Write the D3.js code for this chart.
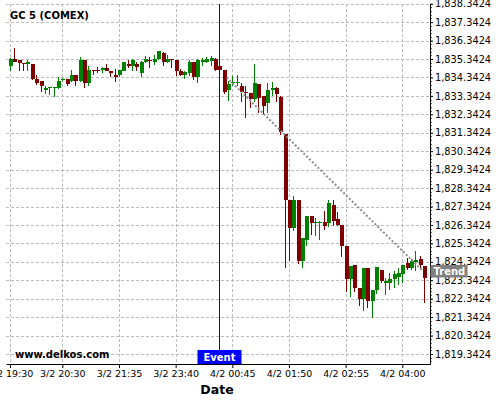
<!DOCTYPE html>
<html>
<head>
<meta charset="utf-8">
<script src="https://cdn.jsdelivr.net/npm/d3@7"></script>
<style>
html,body{margin:0;padding:0;background:#fff;}
svg{display:block;font-family:"DejaVu Sans",sans-serif;}
</style>
</head>
<body>
<svg id="chart" width="500" height="400"></svg>
<script>
const title = "GC 5 (COMEX)";
const watermark = "www.delkos.com";
const xTitle = "Date";

const openP = [
1834.98,1835.35,1835.28,1835.14,1835.07,1835.07,1834.26,1834.15,1833.67,1833.78,
1833.77,1833.77,1834.19,1834.26,1834.16,1834.47,1834.16,1835.29,1834.02,1834.75,
1834.75,1834.75,1834.84,1834.69,1834.49,1834.47,1834.71,1835.07,1834.98,1835.07,
1834.58,1835.20,1835.29,1835.20,1835.35,1835.67,1835.20,1835.35,1835.29,1834.71,
1834.49,1834.58,1835.20,1834.38,1835.20,1835.20,1835.25,1835.35,1834.95,1834.76,
1833.67,1834.04,1834.06,1833.86,1833.57,1833.48,1833.17,1833.99,1833.32,1832.95,
1833.67,1833.75,1833.29,1831.26,1827.67,1826.15,1827.72,1824.37,1825.55,1826.85,
1826.43,1826.43,1826.51,1826.46,1827.45,1826.64,1826.36,1825.18,1823.42,1824.15,
1822.92,1822.32,1824.01,1822.24,1822.83,1823.91,1823.17,1823.17,1823.42,1823.52,
1823.68,1824.28,1824.01,1824.39,1824.51,1824.13];
const closeP = [
1835.35,1835.20,1835.11,1835.09,1835.20,1834.26,1834.06,1833.89,1833.77,1833.82,
1833.82,1834.16,1834.26,1834.00,1834.47,1834.16,1835.29,1834.02,1834.75,1834.71,
1834.69,1834.84,1834.69,1834.60,1834.38,1834.75,1835.17,1834.98,1835.28,1834.89,
1835.20,1835.35,1835.22,1835.35,1835.77,1835.20,1835.35,1835.29,1834.71,1834.49,
1834.62,1835.20,1834.38,1835.29,1835.29,1835.35,1835.38,1834.76,1834.76,1833.57,
1833.99,1834.11,1834.08,1833.57,1833.48,1833.17,1834.04,1833.21,1832.80,1833.66,
1833.75,1833.44,1831.36,1827.72,1826.15,1827.67,1824.37,1825.64,1826.85,1826.46,
1826.51,1826.51,1826.27,1827.55,1826.54,1826.36,1825.18,1823.42,1824.13,1822.92,
1822.32,1824.01,1822.24,1822.83,1824.04,1823.28,1823.28,1823.42,1823.68,1823.73,
1824.15,1824.02,1824.39,1824.42,1824.15,1823.46];
const highP = [
1835.38,1835.93,1835.28,1835.14,1835.28,1835.07,1834.46,1834.15,1833.89,1833.82,
1833.82,1834.35,1834.31,1834.26,1834.73,1834.47,1835.44,1835.29,1834.95,1834.75,
1834.93,1834.89,1835.06,1834.69,1834.80,1834.75,1835.20,1835.31,1835.35,1835.20,
1835.25,1835.53,1835.44,1835.56,1835.77,1835.74,1835.56,1835.35,1835.29,1834.80,
1834.71,1835.29,1835.20,1835.35,1835.38,1835.44,1835.53,1835.40,1834.95,1834.76,
1834.16,1834.44,1834.47,1834.04,1833.86,1833.48,1835.07,1833.99,1833.32,1834.04,
1834.11,1833.81,1833.35,1831.30,1827.67,1827.90,1827.72,1825.64,1826.85,1826.85,
1826.73,1826.53,1827.09,1827.69,1827.72,1827.03,1826.36,1825.18,1824.13,1824.15,
1822.92,1824.01,1824.01,1822.83,1824.04,1823.91,1823.46,1823.73,1823.82,1824.01,
1824.15,1824.55,1824.50,1824.91,1824.68,1824.13];
const lowP = [
1834.68,1835.18,1834.68,1834.71,1834.71,1834.20,1833.95,1833.53,1833.44,1833.40,
1833.26,1833.71,1834.16,1833.89,1834.08,1833.89,1834.08,1833.75,1833.89,1834.47,
1834.58,1834.57,1834.69,1834.35,1834.11,1834.35,1834.68,1834.84,1834.71,1834.71,
1834.35,1835.13,1834.84,1835.02,1835.31,1834.95,1835.13,1834.84,1834.44,1834.40,
1834.26,1834.44,1834.22,1834.02,1834.98,1835.13,1834.98,1834.71,1834.75,1833.44,
1833.04,1833.89,1833.89,1833.02,1832.12,1832.66,1833.02,1832.44,1832.35,1832.44,
1833.35,1833.02,1831.21,1824.01,1824.40,1826.04,1824.22,1824.01,1825.18,1825.82,
1825.73,1825.55,1826.09,1826.24,1826.27,1826.27,1824.61,1822.73,1822.43,1822.73,
1821.92,1821.70,1821.83,1821.28,1822.61,1823.21,1822.55,1822.83,1822.92,1823.10,
1823.19,1823.91,1823.91,1823.82,1823.91,1822.10];

const xTickIndex = [0,12,25,38,51,64,77,90];
const xTickLabels = ["3/2 19:30","3/2 20:30","3/2 21:35","3/2 23:40","4/2 00:45","4/2 01:50","4/2 02:55","4/2 04:00"];
const yTicks = [1819.3424,1820.3424,1821.3424,1822.3424,1823.3424,1824.3424,1825.3424,1826.3424,1827.3424,1828.3424,1829.3424,1830.3424,1831.3424,1832.3424,1833.3424,1834.3424,1835.3424,1836.3424,1837.3424,1838.3424];

const eventIndex = 48;
const eventLabel = "Event";
const trendIndex = [49.7, 94.45];
const trendPrice = [1834.35, 1823.90];
const trendLabel = "Trend";

(function(){
const pL = 6, pR = 430, pT = 3.7, pB = 364;
const svg = d3.select("#chart");

const x = d3.scaleLinear().domain([-0.92, 96.35]).range([pL, pR]);
const y = d3.scaleLinear().domain([1819.3424 - 10/18.437, 1838.3424]).range([pB, pT]);

const data = openP.map((o,i)=>({i, o, c: closeP[i], h: highP[i], l: lowP[i]}));

// grid
const grid = svg.append("g").attr("shape-rendering","crispEdges");
grid.selectAll("line.h").data(yTicks).join("line").attr("class","h")
  .attr("x1", pL).attr("x2", pR)
  .attr("y1", d=>Math.round(y(d))+0.5).attr("y2", d=>Math.round(y(d))+0.5)
  .attr("stroke","#bcbcbc").attr("stroke-dasharray","3,2");
grid.selectAll("line.v").data(xTickIndex).join("line").attr("class","v")
  .attr("x1", d=>Math.round(x(d))+0.5).attr("x2", d=>Math.round(x(d))+0.5)
  .attr("y1", pT).attr("y2", pB)
  .attr("stroke","#bcbcbc").attr("stroke-dasharray","3,2");

// candles
const up = "#008000", down = "#800000";
const cg = svg.append("g").attr("shape-rendering","crispEdges");
cg.selectAll("line.wick").data(data).join("line").attr("class","wick")
  .attr("x1", d=>Math.round(x(d.i))+0.5).attr("x2", d=>Math.round(x(d.i))+0.5)
  .attr("y1", d=>y(d.h)).attr("y2", d=>y(d.l))
  .attr("stroke", d=>d.c>=d.o?up:down).attr("stroke-width",1);
cg.selectAll("rect.body").data(data).join("rect").attr("class","body")
  .attr("x", d=>Math.round(x(d.i))-1.5).attr("width", 4)
  .attr("y", d=>y(Math.max(d.o,d.c)))
  .attr("height", d=>Math.max(1.2, Math.abs(y(d.o)-y(d.c))))
  .attr("fill", d=>d.c>=d.o?up:down);

// trend line
svg.append("line")
  .attr("x1", x(trendIndex[0])).attr("y1", y(trendPrice[0]))
  .attr("x2", x(trendIndex[1])).attr("y2", y(trendPrice[1]))
  .attr("stroke","#8c8c8c").attr("stroke-width",2).attr("stroke-dasharray","2,2");

// event line
const ex = Math.round(x(eventIndex))+0.5;
svg.append("line").attr("x1",ex).attr("x2",ex).attr("y1",pT).attr("y2",350)
  .attr("stroke","#0000ff").attr("stroke-width",1).attr("shape-rendering","crispEdges");
svg.append("rect").attr("x", ex-22).attr("y",350).attr("width",44).attr("height",14).attr("fill","#0000ff");
svg.append("text").attr("x",ex).attr("y",361).attr("text-anchor","middle")
  .attr("font-size","10px").attr("font-weight","bold").attr("fill","#fff").text(eventLabel);

// axes
const xAxis = d3.axisBottom(x).tickValues(xTickIndex).tickFormat((d,k)=>xTickLabels[k]).tickSize(4).tickSizeOuter(0);
const gx = svg.append("g").attr("transform",`translate(0,${pB})`).call(xAxis);
gx.select(".domain").attr("stroke","#000");
gx.selectAll("text").attr("font-size","9.5px").attr("font-family","DejaVu Sans").attr("fill","#000").attr("dy","0.6em");

const yMinor = d3.range(0, 98).map(k=>1818.9424 + k*0.2).filter(v=>y(v)>=pT-0.5 && y(v)<=pB);
const gyMinor = svg.append("g").attr("shape-rendering","crispEdges");
gyMinor.selectAll("line").data(yMinor).join("line")
  .attr("x1", pR).attr("x2", pR+2)
  .attr("y1", d=>Math.round(y(d))+0.5).attr("y2", d=>Math.round(y(d))+0.5)
  .attr("stroke","#666");

const yAxis = d3.axisRight(y).tickValues(yTicks).tickFormat(d3.format(",.4f")).tickSize(3).tickSizeOuter(0);
const gy = svg.append("g").attr("transform",`translate(${pR},0)`).call(yAxis);
gy.select(".domain").attr("stroke","#000");
gy.selectAll("text").attr("font-size","9.8px").attr("font-family","DejaVu Sans").attr("fill","#000").attr("x",5);

// trend label
const ty = y(trendPrice[1]);
svg.append("rect").attr("x", pR+0.5).attr("y", ty-5).attr("width",37).attr("height",12.5).attr("fill","#808080");
svg.append("text").attr("x", pR+3.5).attr("y", ty+5).attr("font-size","10px").attr("font-weight","bold").attr("fill","#fff").text(trendLabel);

// texts
svg.append("text").attr("x",10).attr("y",19).attr("font-size","10px").attr("font-weight","bold").attr("fill","#000").text(title);
svg.append("text").attr("x",15).attr("y",357.5).attr("font-size","10px").attr("font-weight","bold").attr("fill","#000").text(watermark);
svg.append("text").attr("x",217).attr("y",394).attr("text-anchor","middle").attr("font-size","12.5px").attr("font-weight","bold").attr("fill","#000").text(xTitle);
})();
</script>
</body>
</html>
